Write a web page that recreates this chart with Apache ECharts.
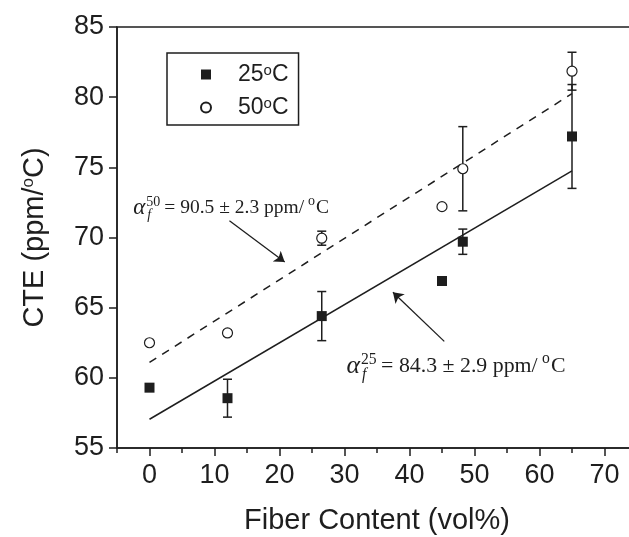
<!DOCTYPE html>
<html>
<head>
<meta charset="utf-8">
<script src="https://cdn.jsdelivr.net/npm/echarts@6/dist/echarts.min.js"></script>
<style>
html, body { margin: 0; padding: 0; background: #fff; }
#cteChart { width: 629px; height: 537px; }
</style>
</head>
<body>
<div id="cteChart"></div>
<script>
// data
var fiber = [0, 12, 26.5, 45, 48.2, 65];
var cte25 = [59.3, 58.55, 64.4, 66.9, 69.7, 77.2];
var err25 = [0, 1.35, 1.75, 0, 0.9, 3.7];
var cte50 = [62.5, 63.2, 69.95, 72.2, 74.9, 81.85];
var err50 = [0, 0.2, 0.5, 0, 3.0, 1.35];
var fitX = [0, 65];
var fit25 = [57.05, 74.75];
var fit50 = [61.1, 80.25];
var xLabels = [0, 10, 20, 30, 40, 50, 60, 70];
var xMinor = [-5, 5, 15, 25, 35, 45, 55, 65, 75];
var yLabels = [55, 60, 65, 70, 75, 80, 85];
// annotations: text anchor [x, y], arrow [from, to]
var noteSup = ['50', '25'];
var noteMain = ['= 90.5 \u00b1 2.3 ppm/', '= 84.3 \u00b1 2.9 ppm/'];
var notePos = [[-2.5, 72.1], [30.3, 60.8]];
var noteArrows = [[[12.3, 71.2], [20.8, 68.25]], [[45.35, 62.6], [37.45, 66.1]]];

var ink = '#1e1e1e';
var sans = '"Liberation Sans", Arial, sans-serif';
var serif = '"Liberation Serif", "DejaVu Serif", serif';
var squareIcon = 'path://M0 0H10V10H0Z';
var noteScale = [1, 1.12];

function pairs(xs, ys) {
    return xs.map(function (x, i) { return [x, ys[i]]; });
}
function errData(xs, ys, es) {
    return xs.map(function (x, i) { return [x, ys[i], es[i]]; })
        .filter(function (d) { return d[2] > 0; });
}

function renderErr(params, api) {
    var x = api.value(0), y = api.value(1), e = api.value(2);
    var hi = api.coord([x, y + e]);
    var lo = api.coord([x, y - e]);
    var w = 4.5;
    var st = { stroke: ink, lineWidth: 1.5 };
    return {
        type: 'group',
        children: [
            { type: 'line', shape: { x1: hi[0], y1: hi[1], x2: lo[0], y2: lo[1] }, style: st },
            { type: 'line', shape: { x1: hi[0] - w, y1: hi[1], x2: hi[0] + w, y2: hi[1] }, style: st },
            { type: 'line', shape: { x1: lo[0] - w, y1: lo[1], x2: lo[0] + w, y2: lo[1] }, style: st }
        ]
    };
}

var measureCtx = document.createElement('canvas').getContext('2d');
function textW(str, font) {
    measureCtx.font = font;
    return measureCtx.measureText(str).width;
}

function txt(str, x, y, font) {
    return {
        type: 'text', x: x, y: y,
        style: { text: str, font: font, fill: ink, align: 'left', verticalAlign: 'middle' }
    };
}

function renderNote(params, api) {
    var i = params.dataIndex;
    var k = noteScale[i];
    var fAlpha = 'italic ' + (23 * k) + 'px ' + serif;
    var fMain = (19.5 * k) + 'px ' + serif;
    var fSmall = (14 * k) + 'px ' + serif;
    var fSmallIt = 'italic ' + (14 * k) + 'px ' + serif;
    var p = api.coord([api.value(0), api.value(1)]);
    var x = p[0], y = p[1];
    var aW = textW('\u03b1', fAlpha);
    var idxW = Math.max(textW(noteSup[i], fSmall), textW('f', fSmallIt));
    var mainX = x + aW + 1 + idxW + 4 * k;
    var oX = mainX + textW(noteMain[i], fMain) + 4 * k;
    var cX = oX + textW('o', fSmall) + 1;
    return {
        type: 'group',
        children: [
            txt('\u03b1', x, y, fAlpha),
            txt(noteSup[i], x + aW + 1, y - 6 * k, fSmall),
            txt('f', x + aW + 2, y + 7 * k, fSmallIt),
            txt(noteMain[i], mainX, y, fMain),
            txt('o', oX, y - 7 * k, fSmall),
            txt('C', cX, y, fMain)
        ]
    };
}

var myChart = echarts.init(document.getElementById('cteChart'));
var option = {
    animation: false,
    backgroundColor: '#fff',
    textStyle: { fontFamily: sans, color: ink },
    grid: {
        left: 117, top: 27, right: -8, bottom: 89,
        show: true, borderColor: ink, borderWidth: 1.5,
        containLabel: false, outerBoundsMode: 'none'
    },
    legend: {
        orient: 'vertical',
        left: 167, top: 53,
        padding: [10, 10, 6, 33],
        itemGap: 10,
        itemWidth: 54, itemHeight: 10,
        symbolKeepAspect: true,
        borderColor: ink, borderWidth: 1.5,
        data: ['25\u00b0C', '50\u00b0C'],
        formatter: function (name) { return name.replace('\u00b0', '{sup|o}'); },
        textStyle: {
            fontSize: 23, lineHeight: 23, color: ink, fontFamily: sans,
            rich: { sup: { fontSize: 15, verticalAlign: 'top', lineHeight: 9, fontFamily: sans, color: ink } }
        }
    },
    xAxis: [{
        type: 'value', min: -5, max: 75,
        name: 'Fiber Content (vol%)',
        nameLocation: 'middle', nameGap: 58,
        nameTextStyle: { fontSize: 29, color: ink, fontFamily: sans },
        axisLine: { show: true, onZero: false, lineStyle: { color: ink, width: 1.5 } },
        axisTick: { show: true, inside: false, length: 8, customValues: xLabels, lineStyle: { color: ink, width: 1.5 } },
        axisLabel: { show: true, customValues: xLabels, fontSize: 27, color: ink, margin: 14 },
        splitLine: { show: false }
    }, {
        type: 'value', min: -5, max: 75, position: 'bottom',
        axisLine: { show: false, onZero: false },
        axisTick: { show: true, inside: false, length: 5, customValues: xMinor, lineStyle: { color: ink, width: 1.5 } },
        axisLabel: { show: false },
        splitLine: { show: false }
    }],
    yAxis: {
        type: 'value', min: 55, max: 85, interval: 5,
        name: 'CTE (ppm/{sup|o}C)',
        nameLocation: 'middle', nameGap: 68,
        nameTextStyle: {
            fontSize: 29, color: ink, fontFamily: sans,
            rich: { sup: { fontSize: 17, verticalAlign: 'top', lineHeight: 17, fontFamily: sans, color: ink } }
        },
        axisLine: { show: true, onZero: false, lineStyle: { color: ink, width: 1.5 } },
        axisTick: { show: true, inside: false, length: 8, lineStyle: { color: ink, width: 1.5 } },
        axisLabel: { show: true, customValues: yLabels, fontSize: 27, color: ink, margin: 13 },
        splitLine: { show: false }
    },
    series: [{
        type: 'line', data: pairs(fitX, fit50), symbol: 'none', silent: true,
        lineStyle: { color: ink, width: 1.5, type: [8, 7] }, z: 2
    }, {
        type: 'line', data: pairs(fitX, fit25), symbol: 'none', silent: true,
        lineStyle: { color: ink, width: 1.5 }, z: 2
    }, {
        type: 'custom', renderItem: renderErr, encode: { x: 0, y: 1 },
        data: errData(fiber, cte25, err25), z: 3
    }, {
        type: 'custom', renderItem: renderErr, encode: { x: 0, y: 1 },
        data: errData(fiber, cte50, err50), z: 3
    }, {
        name: '25\u00b0C', type: 'scatter', data: pairs(fiber, cte25),
        symbol: squareIcon, symbolSize: 10, symbolKeepAspect: true,
        itemStyle: { color: ink, opacity: 1 }, z: 5
    }, {
        name: '50\u00b0C', type: 'scatter', data: pairs(fiber, cte50),
        symbol: 'circle', symbolSize: 10,
        itemStyle: { color: '#fff', borderColor: ink, borderWidth: 1.2, opacity: 1 }, z: 5
    }, {
        type: 'lines', coordinateSystem: 'cartesian2d', silent: true,
        symbol: ['none', 'arrow'], symbolSize: 10,
        lineStyle: { color: ink, width: 1.3, opacity: 1, curveness: 0 },
        data: noteArrows.map(function (a) { return { coords: a }; }), z: 4
    }, {
        type: 'custom', renderItem: renderNote, encode: { x: 0, y: 1 },
        data: notePos, silent: true, z: 6
    }]
};
myChart.setOption(option);
</script>
</body>
</html>
